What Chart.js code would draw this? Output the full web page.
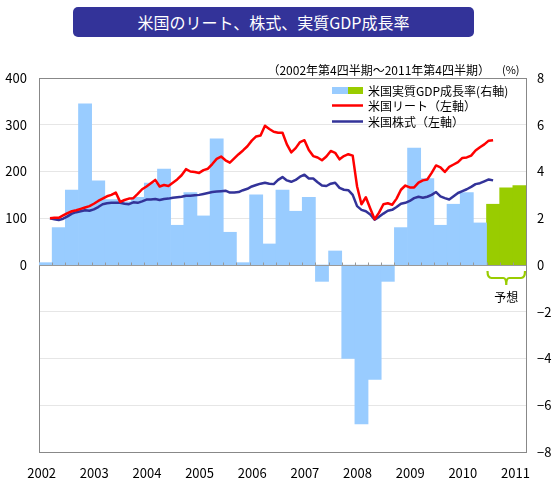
<!DOCTYPE html>
<html lang="ja">
<head>
<meta charset="utf-8">
<title>米国のリート、株式、実質GDP成長率</title>
<script src="https://cdn.jsdelivr.net/npm/chart.js@4.4.1/dist/chart.umd.min.js"></script>
<style>
  html, body { margin: 0; padding: 0; background: #fff; }
  #wrap { position: relative; width: 558px; height: 499px; }
  #banner {
    position: absolute; left: 73px; top: 7px; width: 401px; height: 30px;
    background: #333399; border-radius: 5px; color: #fff;
    font: 16px "Noto Sans CJK JP", sans-serif; line-height: 30px; text-align: center;
  }
  canvas { position: absolute; left: 0; top: 0; }
</style>
</head>
<body>
<div id="wrap">
  <canvas id="chart" width="558" height="499"></canvas>
  <div id="banner">米国のリート、株式、実質GDP成長率</div>
</div>
<script>
const FONT = '"Noto Sans CJK JP", "Noto Sans", sans-serif';

// x axis labels (placed on the 4th quarter of each year)
const yearLabels = ['2002', '2003', '2004', '2005', '2006', '2007', '2008', '2009', '2010', '2011'];

// US real GDP growth, % (annualised q/q), 2002Q4 - 2011Q1 actual
const gdpActual = [
  0.1, 1.6, 3.2, 6.9, 3.6, 2.8, 2.7, 2.9, 3.5, 4.1,
  1.7, 3.1, 2.1, 5.4, 1.4, 0.1, 3.0, 0.9, 3.2, 2.3,
  2.9, -0.7, 0.6, -4.0, -6.8, -4.9, -0.7, 1.6, 5.0, 3.7,
  1.7, 2.6, 3.1, 1.8
];
// 2011Q2 - 2011Q4 forecast
const gdpForecast = [2.6, 3.3, 3.4];

// monthly indices, Dec 2002 = 100, Dec 2002 - May 2011
const reitIndex = [
  100, 101, 101, 106, 111, 115, 117, 120, 123, 126,
  131, 137, 142, 147, 150, 155, 135, 139, 142, 143,
  152, 162, 168, 175, 182, 168, 171, 169, 176, 183,
  192, 205, 200, 199, 197, 203, 206, 216, 227, 232,
  224, 219, 228, 237, 245, 254, 266, 275, 277, 298,
  291, 285, 283, 283, 258, 241, 250, 263, 267, 246,
  233, 230, 224, 232, 244, 240, 226, 233, 237, 234,
  168, 130, 145, 121, 98, 112, 130, 132, 129, 142,
  161, 170, 166, 166, 176, 181, 183, 197, 213, 209,
  199, 210, 215, 220, 229, 230, 234, 245, 252, 258,
  266, 267
];
const stockIndex = [
  100, 98, 96, 99, 104, 110, 113, 115, 117, 116,
  119, 124, 130, 132, 133, 133, 133, 131, 130, 134,
  133, 136, 140, 140, 141, 139, 141, 142, 144, 145,
  146, 148, 148, 149, 150, 152, 154, 156, 157, 158,
  159, 155, 155, 156, 160, 163, 168, 171, 174, 176,
  174, 173, 182, 188, 181, 178, 182, 189, 193, 185,
  185, 177, 170, 169, 174, 176, 165, 161, 160, 150,
  126, 118, 115, 108, 97, 103, 110, 116, 118, 124,
  131, 133, 137, 143, 146, 144, 146, 150, 156, 147,
  143, 140, 147, 154, 158, 162, 167, 173, 175, 179,
  183, 181
];

const legendLabels = ['米国実質GDP成長率(右軸)', '米国リート（左軸）', '米国株式（左軸）'];
const subtitle = '（2002年第4四半期～2011年第4四半期）';
const forecastLabel = '予想';

const BLUE_BAR = '#99ccff';
const GREEN_BAR = '#99cc00';
const REIT_COLOR = '#ff0000';
const STOCK_COLOR = '#333399';

// x is measured in quarters from the start of 2002Q4
const totalQuarters = gdpActual.length + gdpForecast.length;
const monthX = k => (k + 2.5) / 3; // Dec 2002 is the 3rd month of the first quarter

const decorations = {
  id: 'decorations',
  afterDatasetsDraw(chart) {
    const { ctx, chartArea: a, scales: { x, y } } = chart;
    const y0 = Math.round(y.getPixelForValue(0)) + 0.5;
    ctx.save();
    ctx.strokeStyle = '#999';
    ctx.lineWidth = 1;
    ctx.beginPath();
    ctx.moveTo(a.left, y0);
    ctx.lineTo(a.right, y0);
    for (let q = 1; q < totalQuarters; q++) {
      const px = Math.round(x.getPixelForValue(q)) + 0.5;
      ctx.moveTo(px, y0 - 3);
      ctx.lineTo(px, y0);
    }
    ctx.stroke();
    // top edge of the frame
    ctx.strokeStyle = '#888';
    ctx.beginPath();
    ctx.moveTo(a.left, Math.round(a.top) + 0.5);
    ctx.lineTo(a.right, Math.round(a.top) + 0.5);
    ctx.stroke();
    ctx.restore();
  },
  afterDraw(chart) {
    const { ctx, scales: { x, y } } = chart;
    ctx.save();
    ctx.fillStyle = '#000';
    ctx.font = '12px ' + FONT;
    ctx.textBaseline = 'middle';

    // subtitle and unit
    ctx.textAlign = 'right';
    ctx.fillText(subtitle, 490, 70);
    ctx.textAlign = 'left';
    ctx.font = '11px ' + FONT;
    ctx.fillText('(%)', 502, 70);

    // legend
    ctx.font = '12px ' + FONT;
    ctx.fillStyle = BLUE_BAR;
    ctx.fillRect(332, 87, 16, 7);
    ctx.fillStyle = GREEN_BAR;
    ctx.fillRect(348, 87, 15, 7);
    ctx.lineWidth = 2.5;
    ctx.strokeStyle = REIT_COLOR;
    ctx.beginPath(); ctx.moveTo(332, 105.5); ctx.lineTo(363, 105.5); ctx.stroke();
    ctx.strokeStyle = STOCK_COLOR;
    ctx.beginPath(); ctx.moveTo(332, 121.5); ctx.lineTo(363, 121.5); ctx.stroke();
    ctx.fillStyle = '#000';
    ctx.fillText(legendLabels[0], 368, 91);
    ctx.fillText(legendLabels[1], 368, 106);
    ctx.fillText(legendLabels[2], 368, 122);

    // brace under the forecast bars
    const y0 = y.getPixelForValue(0);
    const x0 = x.getPixelForValue(gdpActual.length) + 1;
    const x1 = x.getPixelForValue(totalQuarters) - 1;
    const xm = (x0 + x1) / 2;
    const yTop = y0 + 6, yMid = y0 + 13, yTip = y0 + 20;
    ctx.strokeStyle = GREEN_BAR;
    ctx.lineWidth = 2.2;
    ctx.beginPath();
    ctx.moveTo(x0, yTop);
    ctx.quadraticCurveTo(x0, yMid, x0 + 4, yMid);
    ctx.lineTo(xm - 3, yMid);
    ctx.quadraticCurveTo(xm, yMid, xm, yTip);
    ctx.quadraticCurveTo(xm, yMid, xm + 3, yMid);
    ctx.lineTo(x1 - 4, yMid);
    ctx.quadraticCurveTo(x1, yMid, x1, yTop);
    ctx.stroke();
    ctx.fillStyle = '#000';
    ctx.textAlign = 'center';
    ctx.fillText(forecastLabel, xm, y0 + 32);
    ctx.restore();
  }
};

Chart.defaults.font.family = FONT;
Chart.defaults.color = '#000';

new Chart(document.getElementById('chart'), {
  type: 'bar',
  data: {
    datasets: [
      {
        type: 'line',
        label: legendLabels[1],
        data: reitIndex.map((v, k) => ({ x: monthX(k), y: v })),
        yAxisID: 'y',
        borderColor: REIT_COLOR,
        borderWidth: 2.5,
        borderJoinStyle: 'round',
        pointRadius: 0,
        tension: 0,
        order: 1
      },
      {
        type: 'line',
        label: legendLabels[2],
        data: stockIndex.map((v, k) => ({ x: monthX(k), y: v })),
        yAxisID: 'y',
        borderColor: STOCK_COLOR,
        borderWidth: 2.5,
        borderJoinStyle: 'round',
        pointRadius: 0,
        tension: 0,
        order: 1
      },
      {
        label: legendLabels[0],
        data: gdpActual.map((v, i) => ({ x: i + 0.5, y: v })),
        yAxisID: 'y2',
        backgroundColor: BLUE_BAR,
        borderWidth: 0,
        barPercentage: 1,
        categoryPercentage: 1,
        grouped: false,
        order: 2
      },
      {
        label: legendLabels[0],
        data: gdpForecast.map((v, i) => ({ x: gdpActual.length + i + 0.5, y: v })),
        yAxisID: 'y2',
        backgroundColor: GREEN_BAR,
        borderWidth: 0,
        barPercentage: 1,
        categoryPercentage: 1,
        grouped: false,
        order: 2
      }
    ]
  },
  options: {
    responsive: false,
    animation: false,
    layout: { padding: { top: 78, left: 0, right: 0, bottom: 0 } },
    plugins: { legend: { display: false }, tooltip: { enabled: false } },
    scales: {
      x: {
        type: 'linear',
        min: 0,
        max: totalQuarters,
        offset: false,
        grid: { display: false, drawTicks: false },
        border: { color: '#888' },
        afterBuildTicks: scale => {
          scale.ticks = yearLabels.map((_, i) => ({ value: i * 4 + 0.2 }));
        },
        afterFit: scale => { scale.height = 47; },
        ticks: {
          autoSkip: false,
          maxRotation: 0,
          padding: 13,
          font: { size: 13 },
          callback: (v, i) => yearLabels[i]
        }
      },
      y: {
        position: 'left',
        min: -400,
        max: 400,
        grid: {
          drawTicks: false,
          color: '#e6e6e6'
        },
        border: { color: '#888' },
        afterFit: scale => { scale.width = 39; },
        ticks: {
          stepSize: 100,
          autoSkip: false,
          padding: 12,
          font: { size: 13 },
          callback: v => (v >= 0 ? v : '')
        }
      },
      y2: {
        position: 'right',
        min: -8,
        max: 8,
        grid: { display: false, drawTicks: false },
        border: { color: '#888' },
        afterFit: scale => { scale.width = 32; },
        ticks: {
          stepSize: 2,
          autoSkip: false,
          padding: 11,
          font: { size: 13 },
          callback: v => (v < 0 ? '\u2212' + Math.abs(v) : String(v))
        }
      }
    }
  },
  plugins: [decorations]
});
</script>
</body>
</html>
